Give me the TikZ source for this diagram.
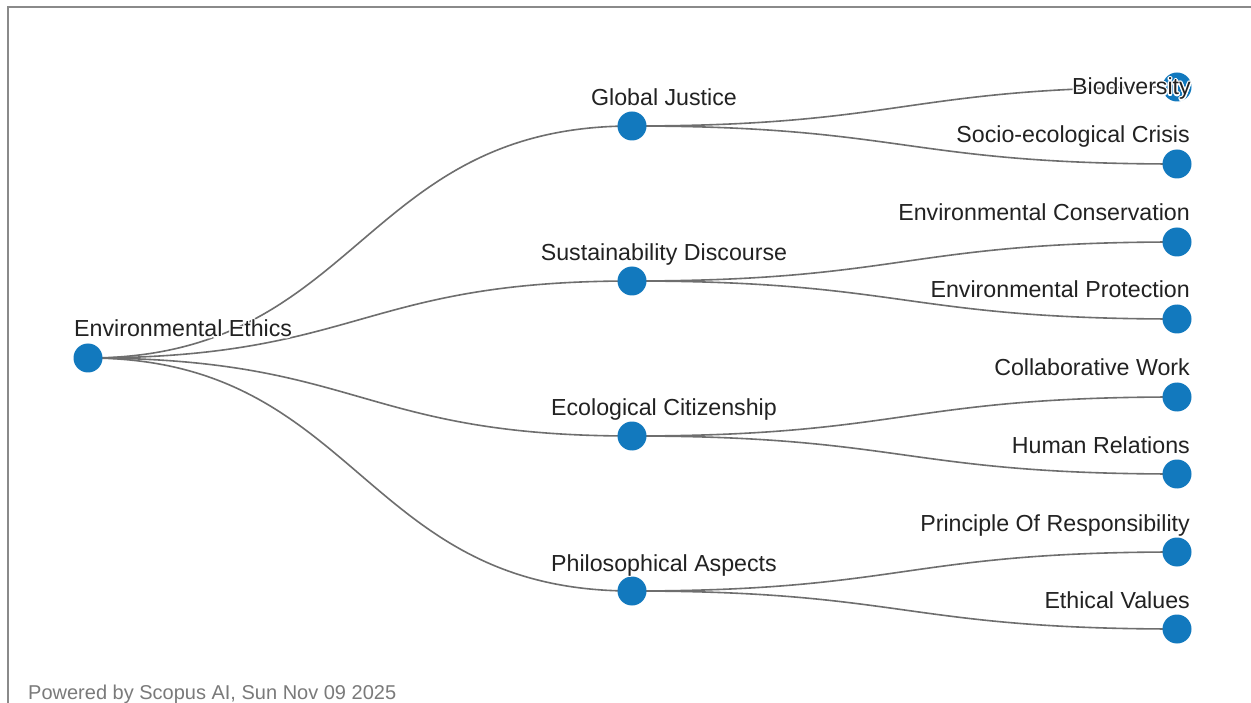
\documentclass[tikz,border=0pt]{standalone}
\usepackage{fontspec}
\setmainfont{Liberation Sans}
\usepackage{contour}
\contourlength{1.2pt}
\usetikzlibrary{calc,backgrounds}
\definecolor{nodeblue}{HTML}{1279BE}
\definecolor{linkgray}{HTML}{6E6E6E}
\definecolor{labelblack}{HTML}{222222}
\definecolor{framegray}{HTML}{8A8A8A}
\definecolor{footgray}{HTML}{7A7A7A}
\newcommand\lnk[2]{%
  \path ($(#1.center)!0.5!(#2.center)$) coordinate (mid);
  \draw[link] (#1.center) .. controls (mid |- #1.center) and (mid |- #2.center) .. (#2.center);}
\begin{document}
\begin{tikzpicture}[x=1pt,y=-1pt,
  dot/.style={circle,fill=nodeblue,minimum size=29pt,inner sep=0pt},
  link/.style={draw=linkgray,line width=1.6pt},
  lbl/.style={font=\fontsize{23.2}{26}\selectfont,text=labelblack,inner sep=0pt},
  foot/.style={font=\fontsize{20}{22}\selectfont,text=footgray,inner sep=0pt}]
\useasboundingbox (0,0) rectangle (1251,703);
% nodes
\node[dot] (root) at (88,358) {};
\node[dot] (gj) at (632,126) {};
\node[dot] (sd) at (632,281) {};
\node[dot] (ec) at (632,436) {};
\node[dot] (pa) at (632,591) {};
\node[dot] (bio) at (1177,87) {};
\node[dot] (sec) at (1177,164) {};
\node[dot] (eco) at (1177,242) {};
\node[dot] (epr) at (1177,319) {};
\node[dot] (cw) at (1177,397) {};
\node[dot] (hr) at (1177,474) {};
\node[dot] (por) at (1177,552) {};
\node[dot] (ev) at (1177,629) {};
% background and links
\begin{pgfonlayer}{background}
\fill[white] (0,0) rectangle (1251,703);
\draw[framegray,line width=2pt] (8,703) -- (8,7) -- (1251,7);
\lnk{root}{gj}
\lnk{root}{sd}
\lnk{root}{ec}
\lnk{root}{pa}
\lnk{gj}{bio}
\lnk{gj}{sec}
\lnk{sd}{eco}
\lnk{sd}{epr}
\lnk{ec}{cw}
\lnk{ec}{hr}
\lnk{pa}{por}
\lnk{pa}{ev}
\end{pgfonlayer}
% labels
\node[lbl,anchor=base west] (rootl) at ([shift={(-14,-21)}]root.center) {\contour{white}{Environmental Ethics}};
\node[lbl,anchor=base] (gjl) at ([shift={(32,-20)}]gj.center) {\contour{white}{Global Justice}};
\node[lbl,anchor=base] (sdl) at ([shift={(32,-20)}]sd.center) {\contour{white}{Sustainability Discourse}};
\node[lbl,anchor=base] (ecl) at ([shift={(32,-20)}]ec.center) {\contour{white}{Ecological Citizenship}};
\node[lbl,anchor=base] (pal) at ([shift={(32,-20)}]pa.center) {\contour{white}{Philosophical Aspects}};
\node[lbl,anchor=base east] (biol) at ([shift={(14,8)}]bio.center) {\contour{white}{Biodiversity}};
\node[lbl,anchor=base east] (secl) at ([shift={(13,-21)}]sec.center) {\contour{white}{Socio-ecological Crisis}};
\node[lbl,anchor=base east] (ecol) at ([shift={(13,-21)}]eco.center) {\contour{white}{Environmental Conservation}};
\node[lbl,anchor=base east] (eprl) at ([shift={(13,-21)}]epr.center) {\contour{white}{Environmental Protection}};
\node[lbl,anchor=base east] (cwl) at ([shift={(13,-21)}]cw.center) {\contour{white}{Collaborative Work}};
\node[lbl,anchor=base east] (hrl) at ([shift={(13,-21)}]hr.center) {\contour{white}{Human Relations}};
\node[lbl,anchor=base east] (porl) at ([shift={(13,-21)}]por.center) {\contour{white}{Principle Of Responsibility}};
\node[lbl,anchor=base east] (evl) at ([shift={(13,-21)}]ev.center) {\contour{white}{Ethical Values}};
\node[foot,anchor=base west] (foot) at (28,699) {Powered by Scopus AI, Sun Nov 09 2025};
\end{tikzpicture}
\end{document}
